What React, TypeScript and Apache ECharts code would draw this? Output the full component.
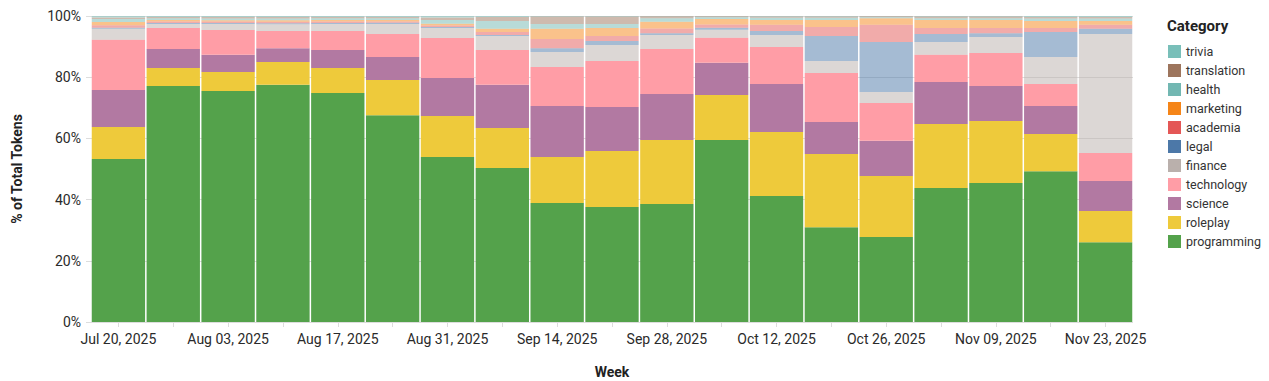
import React, { useEffect, useRef } from "react";
import * as echarts from "echarts";

const weeks = [
  "Jul 20, 2025", "Jul 27, 2025", "Aug 03, 2025", "Aug 10, 2025", "Aug 17, 2025",
  "Aug 24, 2025", "Aug 31, 2025", "Sep 07, 2025", "Sep 14, 2025", "Sep 21, 2025",
  "Sep 28, 2025", "Oct 05, 2025", "Oct 12, 2025", "Oct 19, 2025", "Oct 26, 2025",
  "Nov 02, 2025", "Nov 09, 2025", "Nov 16, 2025", "Nov 23, 2025",
];

const programming = [53.3, 77.1, 75.5, 77.5, 74.8, 67.6, 53.9, 50.3, 38.9, 37.6, 38.6, 59.5, 41.2, 31.0, 27.8, 43.8, 45.4, 49.3, 26.1];
const roleplay = [10.4, 5.9, 6.2, 7.5, 8.2, 11.5, 13.4, 13.1, 15.0, 18.3, 20.9, 14.7, 20.9, 23.9, 19.9, 20.9, 20.3, 12.1, 10.2];
const science = [12.1, 6.2, 5.6, 4.5, 5.9, 7.5, 12.4, 14.1, 16.7, 14.4, 15.0, 10.5, 15.7, 10.5, 11.5, 13.7, 11.4, 9.2, 9.8];
const technology = [16.4, 6.9, 8.1, 5.6, 6.2, 7.5, 13.1, 11.4, 12.7, 15.0, 14.7, 8.2, 12.1, 16.0, 12.4, 8.9, 10.8, 7.2, 9.1];
const finance = [3.6, 1.3, 2.0, 2.2, 2.3, 3.3, 3.3, 4.6, 4.9, 5.2, 4.6, 2.6, 3.9, 3.9, 3.6, 4.2, 5.2, 8.8, 38.9];
const legal = [0.4, 0.3, 0.3, 0.3, 0.3, 0.4, 0.3, 0.3, 1.3, 1.3, 0.6, 0.7, 1.3, 8.2, 16.3, 2.6, 1.3, 8.2, 1.7];
const academia = [0.8, 0.5, 0.5, 0.5, 0.5, 0.4, 0.5, 1.0, 3.0, 1.7, 1.5, 1.0, 2.0, 2.9, 5.6, 2.0, 1.7, 1.3, 1.3];
const marketing = [1.0, 0.5, 0.4, 0.5, 0.5, 0.5, 0.6, 1.0, 3.3, 2.6, 2.2, 1.8, 1.6, 2.3, 2.2, 2.6, 2.6, 2.3, 1.3];
const health = [1.0, 0.6, 0.6, 0.6, 0.6, 0.6, 1.2, 2.6, 1.6, 1.3, 1.2, 0.6, 0.7, 0.7, 0.3, 0.6, 0.6, 0.8, 0.8];
const translation = [0.5, 0.4, 0.5, 0.5, 0.4, 0.4, 0.8, 1.3, 2.4, 2.4, 0.6, 0.3, 0.4, 0.4, 0.3, 0.5, 0.5, 0.5, 0.5];
const trivia = [0.5, 0.3, 0.3, 0.3, 0.3, 0.3, 0.5, 0.3, 0.2, 0.2, 0.1, 0.2, 0.2, 0.2, 0.1, 0.2, 0.2, 0.3, 0.3];

const seriesDefs = [
  { name: "programming", data: programming, color: "#54a24b", opacity: 1 },
  { name: "roleplay", data: roleplay, color: "#eeca3b", opacity: 1 },
  { name: "science", data: science, color: "#b279a2", opacity: 1 },
  { name: "technology", data: technology, color: "#ff9da6", opacity: 1 },
  { name: "finance", data: finance, color: "#bab0ac", opacity: 0.5 },
  { name: "legal", data: legal, color: "#4c78a8", opacity: 0.5 },
  { name: "academia", data: academia, color: "#e45756", opacity: 0.5 },
  { name: "marketing", data: marketing, color: "#f58518", opacity: 0.5 },
  { name: "health", data: health, color: "#72b7b2", opacity: 0.5 },
  { name: "translation", data: translation, color: "#9d755d", opacity: 0.5 },
  { name: "trivia", data: trivia, color: "#79bfb9", opacity: 0.5 },
];

const FONT = "Roboto, 'Noto Sans', sans-serif";

export default function App() {
  const ref = useRef<HTMLDivElement>(null);
  useEffect(() => {
    if (!ref.current) return;
    const chart = echarts.init(ref.current, undefined, { renderer: "svg" });
    chart.setOption({
      animation: false,
      backgroundColor: "#ffffff",
      textStyle: { fontFamily: FONT },
      title: {
        text: "Category",
        left: 1167,
        top: 18,
        padding: 0,
        textStyle: { fontFamily: FONT, fontSize: 15, fontWeight: "bold", color: "#222" },
      },
      legend: {
        orient: "vertical",
        left: 1168,
        top: 45,
        padding: 0,
        itemWidth: 13,
        itemHeight: 13,
        itemGap: 6,
        icon: "rect",
        textStyle: { fontFamily: FONT, fontSize: 12.5, color: "#333" },
        data: seriesDefs
          .slice()
          .reverse()
          .map((s) => ({ name: s.name, itemStyle: { color: s.color, opacity: 1 } })),
      },
      grid: { left: 91, right: 136, top: 16, bottom: 59, containLabel: false, outerBoundsMode: "none" },
      xAxis: {
        type: "category",
        data: weeks,
        name: "Week",
        nameLocation: "middle",
        nameGap: 43,
        nameTextStyle: { fontFamily: FONT, fontSize: 14, fontWeight: "bold", color: "#222" },
        axisLine: { show: false },
        axisTick: { show: true, alignWithLabel: true, interval: 0, length: 5, lineStyle: { color: "#dddddd" } },
        axisLabel: { interval: 1, margin: 10, fontFamily: FONT, fontSize: 14, color: "#2a2a2a" },
        splitLine: { show: false },
      },
      yAxis: {
        type: "value",
        min: 0,
        max: 100,
        interval: 20,
        name: "% of Total Tokens",
        nameLocation: "middle",
        nameGap: 67,
        nameTextStyle: { fontFamily: FONT, fontSize: 14, fontWeight: "bold", color: "#222" },
        axisLine: { show: false },
        axisTick: { show: true, length: 5, lineStyle: { color: "#dddddd" } },
        axisLabel: { margin: 10, fontFamily: FONT, fontSize: 14, color: "#2a2a2a", formatter: "{value}%" },
        splitLine: { show: true, lineStyle: { color: "#dddddd", width: 1 } },
      },
      series: seriesDefs.map((s) => ({
        name: s.name,
        type: "bar",
        stack: "total",
        data: s.data,
        barCategoryGap: 1.5,
        itemStyle: { color: s.color, opacity: s.opacity },
        emphasis: { disabled: true },
      })),
    });
    return () => chart.dispose();
  }, []);
  return (
    <div
      ref={ref}
      style={{ position: "absolute", left: 0, top: 0, width: 1269, height: 381, overflow: "hidden" }}
    />
  );
}
